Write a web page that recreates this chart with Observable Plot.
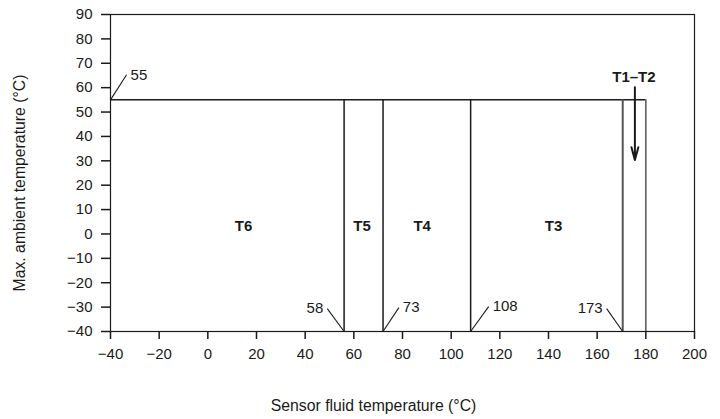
<!DOCTYPE html>
<html><head><meta charset="utf-8">
<script src="https://cdn.jsdelivr.net/npm/d3@7"></script>
<script src="https://cdn.jsdelivr.net/npm/@observablehq/plot@0.6"></script>
<style>body{margin:0;background:#fff}</style>
</head><body><div id="chart"></div>
<script>
// ---- data ----
const xTicks = [-40, -20, 0, 20, 40, 60, 80, 100, 120, 140, 160, 180, 200];
const yTicks = [-40, -30, -20, -10, 0, 10, 20, 30, 40, 50, 60, 70, 80, 90];
const xDomain = [-40, 200];
const yDomain = [-40, 90];
const maxAmbient = 55;
const boundaryX = [56, 72, 108, 170.5, 180];
const classNames = ["T6", "T5", "T4", "T3", "T1–T2"];
const classX = [14.7, 63.4, 88.1, 142.1, 175.1];
const classY = [3, 3, 3, 3, 64.2];
const arrowX = [175.5];
const arrowFromY = [60.2];
const arrowToY = [30.3];
const leaderText = ["55", "58", "73", "108", "173"];
const leaderFromX = [-40, 56, 72, 108, 170.5];
const leaderFromY = [55, -40, -40, -40, -40];
const leaderToX = [-33.4, 49.1, 78.5, 115.4, 163.9];
const leaderToY = [65.3, -30.6, -30.2, -29.8, -30.6];
const xLabel = "Sensor fluid temperature (°C)";
const yLabel = "Max. ambient temperature (°C)";

// ---- tables ----
const bounds = boundaryX.map((x, i) => ({x, i}));
const classes = classNames.map((name, i) => ({name, x: classX[i], y: classY[i]}));
const leaders = leaderText.map((t, i) => ({
  t, x1: leaderFromX[i], y1: leaderFromY[i], x2: leaderToX[i], y2: leaderToY[i],
  right: leaderToX[i] > leaderFromX[i]
}));
const arrows = arrowX.map((x, i) => ({x, y1: arrowFromY[i], y2: arrowToY[i]}));

const font = "Arial, 'Liberation Sans', Helvetica, sans-serif";
const ink = "#1a1a1a";

const chart = Plot.plot({
  width: 720,
  height: 419,
  marginLeft: 110,
  marginRight: 26,
  marginTop: 14,
  marginBottom: 88,
  style: {fontFamily: font, fontSize: "15px", color: ink, background: "#fff"},
  x: {domain: xDomain},
  y: {domain: yDomain},
  marks: [
    Plot.frame({stroke: ink, strokeWidth: 1.2}),
    Plot.axisX({ticks: xTicks, tickSize: 8, tickPadding: 9, label: null, stroke: ink, strokeWidth: 1.5, fontSize: 15}),
    Plot.axisY({ticks: yTicks, tickSize: 9, tickPadding: 9, label: null, stroke: ink, strokeWidth: 1.5, fontSize: 15}),
    Plot.ruleY([maxAmbient], {x1: xDomain[0], x2: boundaryX[boundaryX.length - 1], stroke: ink, strokeWidth: 1.5}),
    Plot.ruleX(bounds, {x: "x", y1: yDomain[0], y2: maxAmbient,
      stroke: d => d.i >= 3 ? "#555" : ink, strokeWidth: d => d.i === 3 ? 2 : 1.5}),
    Plot.link(leaders, {x1: "x1", y1: "y1", x2: "x2", y2: "y2", stroke: ink, strokeWidth: 1.1}),
    Plot.text(leaders.filter(d => d.right), {x: "x2", y: "y2", text: "t", textAnchor: "start", dx: 4, fontSize: 15, fill: ink}),
    Plot.text(leaders.filter(d => !d.right), {x: "x2", y: "y2", text: "t", textAnchor: "end", dx: -4, fontSize: 15, fill: ink}),
    Plot.text(classes, {x: "x", y: "y", text: "name", fontWeight: "bold", fontSize: 15, fill: ink}),
    Plot.arrow(arrows, {x: "x", y1: "y1", y2: "y2", stroke: ink, strokeWidth: 2, headLength: 10, headAngle: 30}),
    Plot.text([xLabel], {frameAnchor: "bottom", textAnchor: "middle", lineAnchor: "middle", dx: -29, dy: 74, fontSize: 15.8, fill: ink}),
    Plot.text([yLabel], {frameAnchor: "left", textAnchor: "middle", lineAnchor: "middle", rotate: -90, dx: -91, dy: 10, fontSize: 15.8, fill: ink})
  ]
});
document.getElementById("chart").append(chart);
</script>
</body></html>
